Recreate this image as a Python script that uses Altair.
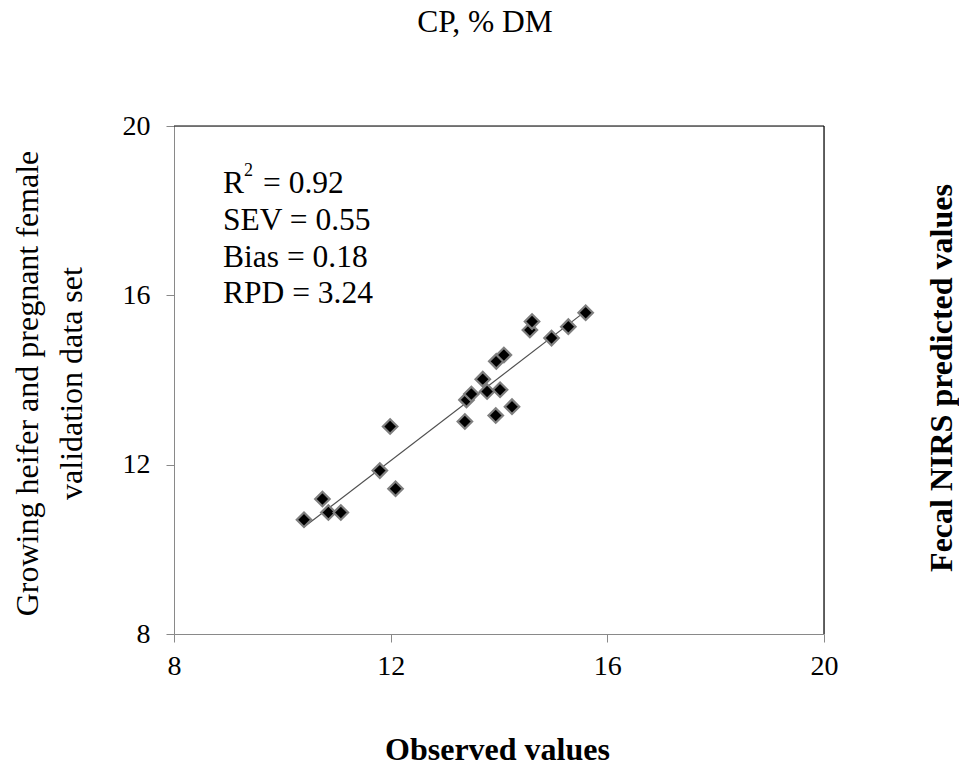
import altair as alt
import pandas as pd

# Observed vs fecal NIRS predicted CP (% DM)
observed = [10.40, 10.74, 10.85, 11.08, 11.80, 11.99, 12.09, 13.37, 13.40, 13.49, 13.70,
            13.78, 14.02, 13.94, 14.24, 13.95, 14.09, 14.57, 14.61, 14.97, 15.28, 15.60]
predicted = [10.70, 11.19, 10.87, 10.87, 11.86, 12.90, 11.43, 13.02, 13.53, 13.67, 14.02,
             13.73, 13.77, 13.16, 13.37, 14.44, 14.59, 15.18, 15.38, 14.99, 15.26, 15.59]
tick_values = [8, 12, 16, 20]
stat_lines = ["SEV = 0.55", "Bias = 0.18", "RPD = 3.24"]
r2_text = "= 0.92"

FONT = "Liberation Serif"
W, H = 650, 508

df = pd.DataFrame({"obs": observed, "pred": predicted})
one = pd.DataFrame({"k": [0]})

x_enc = alt.X("obs:Q", scale=alt.Scale(domain=[8, 20], nice=False, zero=False),
              axis=alt.Axis(values=tick_values, format="d", grid=False, title="Observed values",
                            titleFont=FONT, titleFontSize=32, titleFontWeight="bold",
                            titleColor="black", titleX=323, titleY=125,
                            titleBaseline="alphabetic", titleAnchor="start", titleAlign="center",
                            labelFont=FONT, labelFontSize=28, labelColor="black",
                            labelPadding=10, domainColor="#898989", tickColor="#898989",
                            tickSize=8, labelFlush=False))
y_enc = alt.Y("pred:Q", scale=alt.Scale(domain=[8, 20], nice=False, zero=False),
              axis=alt.Axis(values=tick_values, format="d", grid=False,
                            title=["Growing heifer and pregnant female", "validation data set"],
                            titleFont=FONT, titleFontSize=32, titleFontWeight="normal",
                            titleColor="black", titleAngle=270, titleX=-147, titleY=257,
                            titleBaseline="middle", titleAlign="center", titleLineHeight=44,
                            labelFont=FONT, labelFontSize=28, labelColor="black",
                            labelPadding=16, domainColor="#898989", tickColor="#898989",
                            tickSize=8, labelFlush=False))

points = alt.Chart(df).mark_point(shape="diamond", filled=True, size=210, fill="black",
                                  stroke="#7f7f7f", strokeWidth=2.2, opacity=1).encode(
    x=x_enc, y=y_enc)

trend = alt.Chart(df).transform_regression("obs", "pred").mark_line(
    color="#505050", strokeWidth=1.2).encode(x="obs:Q", y="pred:Q")

frame_top = alt.Chart(one).mark_rule(color="black", strokeWidth=1.2).encode(
    x=alt.value(0), x2=alt.value(W), y=alt.value(0))
frame_right = alt.Chart(one).mark_rule(color="black", strokeWidth=1.2).encode(
    x=alt.value(W), y=alt.value(0), y2=alt.value(H))


def label(text, x, y, size=31.5, weight="normal", angle=0, baseline="alphabetic",
          align="left"):
    return alt.Chart(one).mark_text(font=FONT, fontSize=size, fontWeight=weight,
                                    color="black", baseline=baseline, align=align,
                                    angle=angle).encode(
        x=alt.value(x), y=alt.value(y), text=alt.value(text))


title_txt = label("CP, % DM", 311, -94, size=31.5, align="center")
right_title = label("Fecal NIRS predicted values", 768, 252, size=32, weight="bold",
                    angle=270, baseline="middle", align="center")
r_txt = label("R", 49, 66.7)
sup_txt = label("2", 70, 50, size=18)
r2_val = label(r2_text, 89, 66.7)
stats = [label(t, 49, 104 + i * 36.7) for i, t in enumerate(stat_lines)]

chart = alt.layer(trend, points, frame_top, frame_right, title_txt, right_title,
                  r_txt, sup_txt, r2_val, *stats).properties(
    width=W, height=H,
    autosize=alt.AutoSizeParams(type="none"),
    padding={"left": 174, "top": 126, "right": 135, "bottom": 135},
).configure_view(strokeWidth=0).configure(background="white")

chart.save("out.html", embed_options={"renderer": "svg", "actions": False})
